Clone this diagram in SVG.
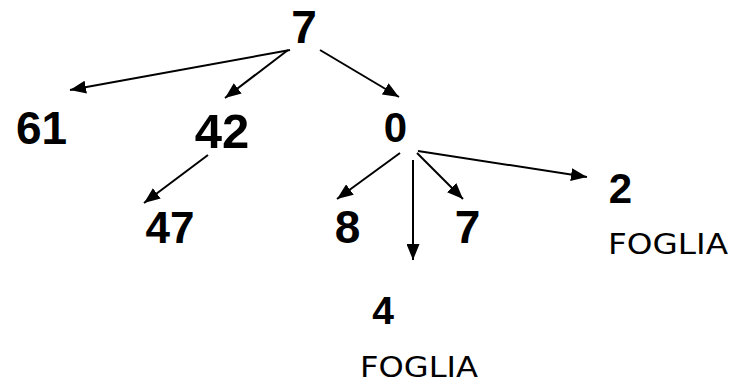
<svg xmlns="http://www.w3.org/2000/svg" width="741" height="385" viewBox="0 0 741 385">
<style>
.n{font-family:"Liberation Sans",Arial,sans-serif;font-weight:bold;fill:#000;text-anchor:middle}
.f{font-family:"DejaVu Sans","Liberation Sans",sans-serif;font-size:29px;fill:#000}
.e{stroke:#000;stroke-width:2;fill:none;marker-end:url(#ah)}
</style>
<defs>
<marker id="ah" markerUnits="userSpaceOnUse" markerWidth="16" markerHeight="13" refX="16" refY="6.5" orient="auto" viewBox="0 0 16 13">
<path d="M0,0 L16,6.5 L0,13 z" fill="#000"/>
</marker>
</defs>
<rect width="741" height="385" fill="#fff"/>
<g id="connectors">
<line class="e" x1="290" y1="50" x2="70" y2="90"/>
<line class="e" x1="288" y1="50" x2="225" y2="98"/>
<line class="e" x1="320" y1="50" x2="399" y2="97"/>
<line class="e" x1="208" y1="155" x2="144" y2="203"/>
<line class="e" x1="400" y1="153" x2="337" y2="199"/>
<line class="e" x1="413" y1="160" x2="413" y2="260"/>
<line class="e" x1="417" y1="153" x2="463" y2="199"/>
<line class="e" x1="418" y1="151" x2="587" y2="177"/>
</g>
<g id="n7"><text class="n" x="304" y="43" font-size="46">7</text></g>
<g id="n61"><text class="n" x="41.5" y="144" font-size="46">61</text></g>
<g id="n42"><text class="n" x="222" y="148" font-size="49">42</text></g>
<g id="n0"><text class="n" x="395.5" y="142" font-size="42">0</text></g>
<g id="n47"><text class="n" x="170" y="243" font-size="44">47</text></g>
<g id="n8"><text class="n" x="347.5" y="243" font-size="46">8</text></g>
<g id="n7b"><text class="n" x="467.5" y="243" font-size="46">7</text></g>
<g id="n4"><text class="n" x="383" y="324" font-size="39">4</text></g>
<g id="n2"><text class="n" x="620.5" y="203" font-size="42">2</text></g>
<g id="label2"><text class="f" x="608" y="254" textLength="120" lengthAdjust="spacingAndGlyphs">FOGLIA</text></g>
<g id="label4"><text class="f" x="360" y="377" textLength="118" lengthAdjust="spacingAndGlyphs">FOGLIA</text></g>
</svg>
